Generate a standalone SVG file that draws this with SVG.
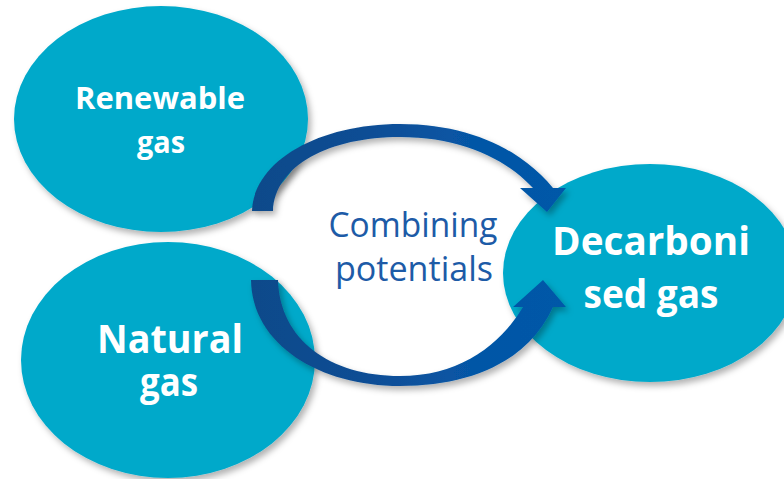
<svg xmlns="http://www.w3.org/2000/svg" width="784" height="479" viewBox="0 0 784 479">
  <defs>
    <filter id="sh" x="-10%" y="-10%" width="130%" height="130%">
      <feDropShadow dx="3" dy="4" stdDeviation="3" flood-color="#000" flood-opacity="0.3"/>
    </filter>
    <linearGradient id="ag" gradientUnits="userSpaceOnUse" x1="250" y1="0" x2="566" y2="0">
      <stop offset="0" stop-color="#0F4A8A"/>
      <stop offset="0.35" stop-color="#0C4D94"/>
      <stop offset="0.7" stop-color="#0656A6"/>
      <stop offset="1" stop-color="#0558A8"/>
    </linearGradient>
  </defs>
  <style>
    .bub { fill: #01A9CA; filter: url(#sh); }
    .lbl { font-family: "Open Sans", "Noto Sans", "Liberation Sans", sans-serif; font-weight: bold; fill: #FFFFFF; text-anchor: middle; }
    .mid { font-family: "Open Sans", "Noto Sans", "Liberation Sans", sans-serif; fill: #1D5BA7; text-anchor: middle; }
    .arr { fill: url(#ag); filter: url(#sh); }
  </style>
  <rect width="784" height="479" fill="#FFFFFF"/>

  <g id="renewable">
    <ellipse class="bub" cx="161" cy="119" rx="147" ry="113"/>
    <text class="lbl" x="160" y="109" font-size="31" textLength="170" lengthAdjust="spacingAndGlyphs">Renewable</text>
    <text class="lbl" x="161" y="153" font-size="31" textLength="48" lengthAdjust="spacingAndGlyphs">gas</text>
  </g>

  <g id="natural">
    <ellipse class="bub" cx="168" cy="360" rx="147" ry="118"/>
    <text class="lbl" x="170" y="353" font-size="39" textLength="146" lengthAdjust="spacingAndGlyphs">Natural</text>
    <text class="lbl" x="169" y="396" font-size="39" textLength="58" lengthAdjust="spacingAndGlyphs">gas</text>
  </g>

  <g id="decarbonised">
    <ellipse class="bub" cx="650" cy="273" rx="147" ry="109"/>
    <text class="lbl" x="651" y="255" font-size="40" textLength="198" lengthAdjust="spacingAndGlyphs">Decarboni</text>
    <text class="lbl" x="651" y="308" font-size="40" textLength="135" lengthAdjust="spacingAndGlyphs">sed gas</text>
  </g>

  <g id="combining">
    <text class="mid" x="413" y="237" font-size="35" textLength="169" lengthAdjust="spacingAndGlyphs">Combining</text>
    <text class="mid" x="414" y="281" font-size="35" textLength="158" lengthAdjust="spacingAndGlyphs">potentials</text>
  </g>

  <g id="connectors">
    <path class="arr" d="M 252 211 C 254 160, 320 124, 400 124 C 470 124, 522 150, 553 188 L 566 188 L 547 212 L 520 188 L 533 188 C 505 158, 460 137, 400 137 C 330 137, 275 165, 273 211 Z"/>
    <path class="arr" d="M 251 280 C 252 345, 320 386, 400 386 C 470 386, 528 362, 553 307 L 566 307 L 543 280 L 513 307 L 523 307 C 500 345, 460 376, 400 376 C 330 376, 280 340, 278 280 Z"/>
  </g>
</svg>
